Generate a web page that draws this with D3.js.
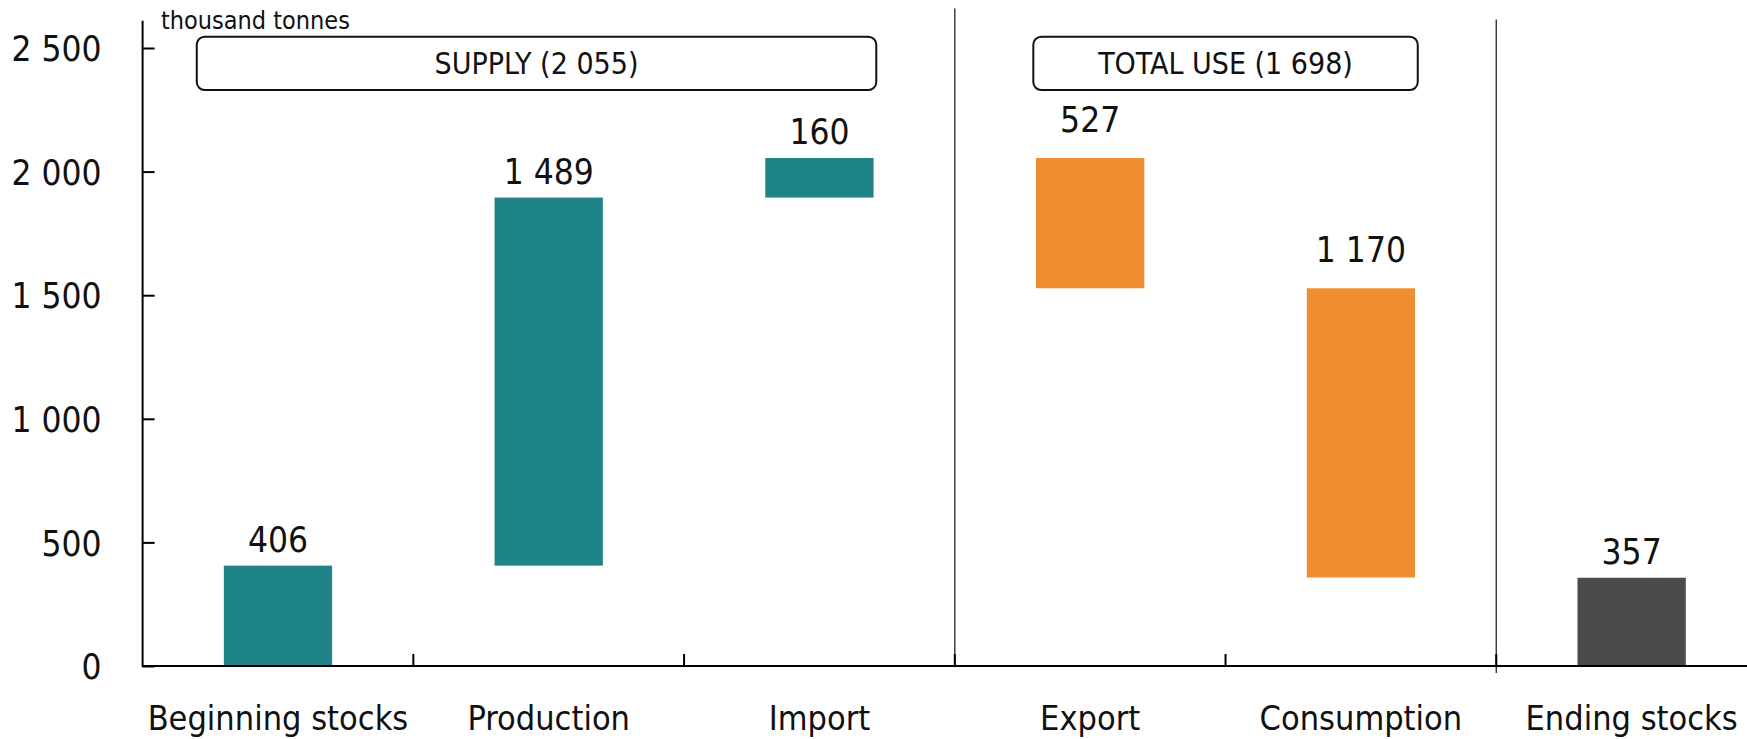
<!DOCTYPE html>
<html>
<head>
<meta charset="utf-8">
<script src="https://cdn.jsdelivr.net/npm/d3@7"></script>
<style>
  html, body { margin: 0; padding: 0; background: #fff; }
  svg { display: block; }
  text { font-family: "DejaVu Sans Condensed", "Liberation Sans Narrow", "DejaVu Sans", sans-serif; font-stretch: condensed; fill: #111; }
</style>
</head>
<body>
<script>
// ---- data ----
const categories = ["Beginning stocks", "Production", "Import", "Export", "Consumption", "Ending stocks"];
const values     = [406, 1489, 160, -527, -1170, 357];
const kinds      = ["supply", "supply", "supply", "use", "use", "stock"];
const valueLabels = ["406", "1 489", "160", "527", "1 170", "357"];
const yTicks     = [0, 500, 1000, 1500, 2000, 2500];
const yTickLabels = ["0", "500", "1 000", "1 500", "2 000", "2 500"];
const groupLabels = ["SUPPLY (2 055)", "TOTAL USE (1 698)"];
const unitLabel  = "thousand tonnes";

// ---- layout ----
const W = 1747, H = 739;
const colors = { supply: "#1f8489", use: "#ee8e31", stock: "#4b4b4b" };

const svg = d3.select("body").append("svg").attr("width", W).attr("height", H);

const x = d3.scaleBand().domain(categories).range([142.6, 1767]).paddingInner(0).paddingOuter(0);
const y = d3.scaleLinear().domain([0, 2500]).range([666, 48]);
const bw = x.bandwidth();

// waterfall computation
let running = 0;
const bars = categories.map((c, i) => {
  let start, end;
  if (kinds[i] === "stock" && i > 0) { start = 0; end = values[i]; }
  else { start = running; end = running + values[i]; running = end; }
  return { c, i, lo: Math.min(start, end), hi: Math.max(start, end), neg: values[i] < 0, kind: kinds[i], label: valueLabels[i] };
});

// separator lines
svg.append("line").attr("x1", x(categories[3])).attr("x2", x(categories[3]))
  .attr("y1", y(2660)).attr("y2", y(0)).attr("stroke", "#333").attr("stroke-width", 1.4);
svg.append("line").attr("x1", x(categories[5])).attr("x2", x(categories[5]))
  .attr("y1", y(2615)).attr("y2", y(0) + 7).attr("stroke", "#333").attr("stroke-width", 1.4);

// bars
svg.append("g").selectAll("rect").data(bars).join("rect")
  .attr("x", d => x(d.c) + bw * 0.3)
  .attr("width", bw * 0.4)
  .attr("y", d => y(d.hi))
  .attr("height", d => y(d.lo) - y(d.hi))
  .attr("fill", d => colors[d.kind]);

// value labels
svg.append("g").selectAll("text").data(bars).join("text")
  .attr("x", d => x(d.c) + bw / 2)
  .attr("y", d => y(d.hi) - (d.neg ? 26 : 14))
  .attr("text-anchor", "middle")
  .attr("font-size", 35)
  .text(d => d.label);

// y axis
const yAxis = d3.axisLeft(y).tickValues(yTicks).tickFormat((d, i) => yTickLabels[i])
  .tickSizeInner(-12).tickSizeOuter(0).tickPadding(41);
const gy = svg.append("g").attr("transform", "translate(142.6,0)").call(yAxis);
gy.select(".domain").remove();
gy.selectAll(".tick line").attr("stroke", "#000").attr("stroke-width", 2);
gy.selectAll(".tick text").attr("font-size", 35).attr("fill", "#111").attr("dy", "0.36em");
gy.attr("font-family", null).attr("font-size", null);
svg.append("line").attr("x1", 142.6).attr("x2", 142.6).attr("y1", y(2610)).attr("y2", y(0) + 1)
  .attr("stroke", "#000").attr("stroke-width", 2);

// x axis
const xAxis = d3.axisBottom(x).tickSize(0).tickPadding(0);
const gx = svg.append("g").attr("transform", `translate(0,${y(0)})`).call(xAxis);
gx.attr("font-family", null).attr("font-size", null);
gx.select(".domain").remove();
gx.selectAll(".tick text").attr("font-size", 34).attr("fill", "#111").attr("y", 64).attr("dy", 0);
svg.append("line").attr("x1", 142.6).attr("x2", W).attr("y1", y(0)).attr("y2", y(0))
  .attr("stroke", "#000").attr("stroke-width", 2);
svg.append("g").selectAll("line").data(categories.slice(1)).join("line")
  .attr("x1", d => x(d)).attr("x2", d => x(d))
  .attr("y1", y(0)).attr("y2", y(0) - 12)
  .attr("stroke", "#000").attr("stroke-width", 2);

// unit label
svg.append("text").attr("x", 161).attr("y", 29).attr("font-size", 25).text(unitLabel);

// group boxes
const boxes = [
  { label: groupLabels[0], x0: x(categories[0]) + bw * 0.2, x1: x(categories[2]) + bw * 0.71 },
  { label: groupLabels[1], x0: x(categories[3]) + bw * 0.29, x1: x(categories[4]) + bw * 0.71 }
];
const gb = svg.append("g").selectAll("g").data(boxes).join("g");
gb.append("rect")
  .attr("x", d => d.x0).attr("width", d => d.x1 - d.x0)
  .attr("y", y(2546)).attr("height", y(2330) - y(2546))
  .attr("rx", 8).attr("ry", 8)
  .attr("fill", "#fff").attr("stroke", "#111").attr("stroke-width", 2);
gb.append("text")
  .attr("x", d => (d.x0 + d.x1) / 2).attr("y", (y(2546) + y(2330)) / 2)
  .attr("dy", "0.36em").attr("text-anchor", "middle").attr("font-size", 30)
  .text(d => d.label);
</script>
</body>
</html>
